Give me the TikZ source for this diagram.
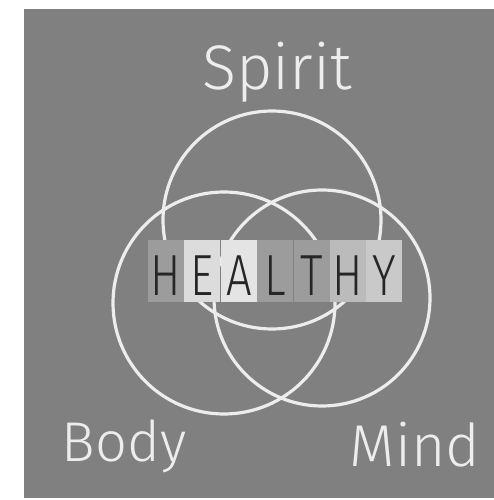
\documentclass[tikz,border=0pt]{standalone}
\usepackage{fontspec}
\usepackage{xcolor}
\usepackage{tikz}
\usetikzlibrary{positioning}
\setmainfont{Fira Sans}
\newfontfamily\chalkfont{Fira Sans Light}
\newfontfamily\tilefont[FakeStretch=0.78]{Fira Sans Light}
\definecolor{board}{HTML}{808080}
\definecolor{chalk}{HTML}{EDEDED}
\definecolor{tiledark}{HTML}{9C9C9C}
\definecolor{tilelight}{HTML}{DCDCDC}
\definecolor{tilepale}{HTML}{E4E4E4}
\definecolor{tilemid}{HTML}{BBBBBB}
\definecolor{tilesoft}{HTML}{C9C9C9}

\begin{document}
\begin{tikzpicture}[
    x=1pt, y=1pt,
    ring/.style={circle, draw=chalk, line width=3.2pt, inner sep=0pt},
    chalklabel/.style={text=chalk, inner sep=0pt, anchor=base},
    tile/.style={rectangle, minimum width=36, minimum height=62, inner sep=0pt, text height=50, text depth=0pt, font=\tilefont\fontsize{58}{58}\selectfont, text=black!85}
]
    % --- PAGE AND CHALKBOARD ---
    \fill[white] (0,0) rectangle (494,500);
    \useasboundingbox (0,0) rectangle (494,500);
    \fill[board] (24,2) rectangle (494,491);

    % --- THREE CHALK RINGS ---
    \node[ring, minimum size=218] (spiritring) at (272,280) {};
    \node[ring, minimum size=222] (bodyring) at (224,197) {};
    \node[ring, minimum size=216] (mindring) at (322,202) {};

    % --- LETTER TILES ---
    \node[tile, fill=tiledark] (h1) at (166,229) {H};
    \node[tile, fill=tilelight, right=0pt of h1] (e1) {E};
    \node[tile, fill=tilepale, right=0pt of e1] (a1) {A};
    \node[tile, fill=tiledark, right=0pt of a1] (l1) {L};
    \node[tile, fill=tiledark, right=0pt of l1] (t1) {T};
    \node[tile, fill=tilemid, right=0pt of t1] (h2) {H};
    \node[tile, fill=tilesoft, right=0pt of h2] (y1) {Y};

    % --- CHALK WORDS ---
    \node[chalklabel, font=\chalkfont\fontsize{63}{63}\selectfont] (spiritlbl) at (277,410) {Spirit};
    \node[chalklabel, font=\chalkfont\fontsize{56}{56}\selectfont] (bodylbl) at (124,38) {Body};
    \node[chalklabel, font=\chalkfont\fontsize{59}{59}\selectfont] (mindlbl) at (415,33) {Mind};
\end{tikzpicture}
\end{document}
